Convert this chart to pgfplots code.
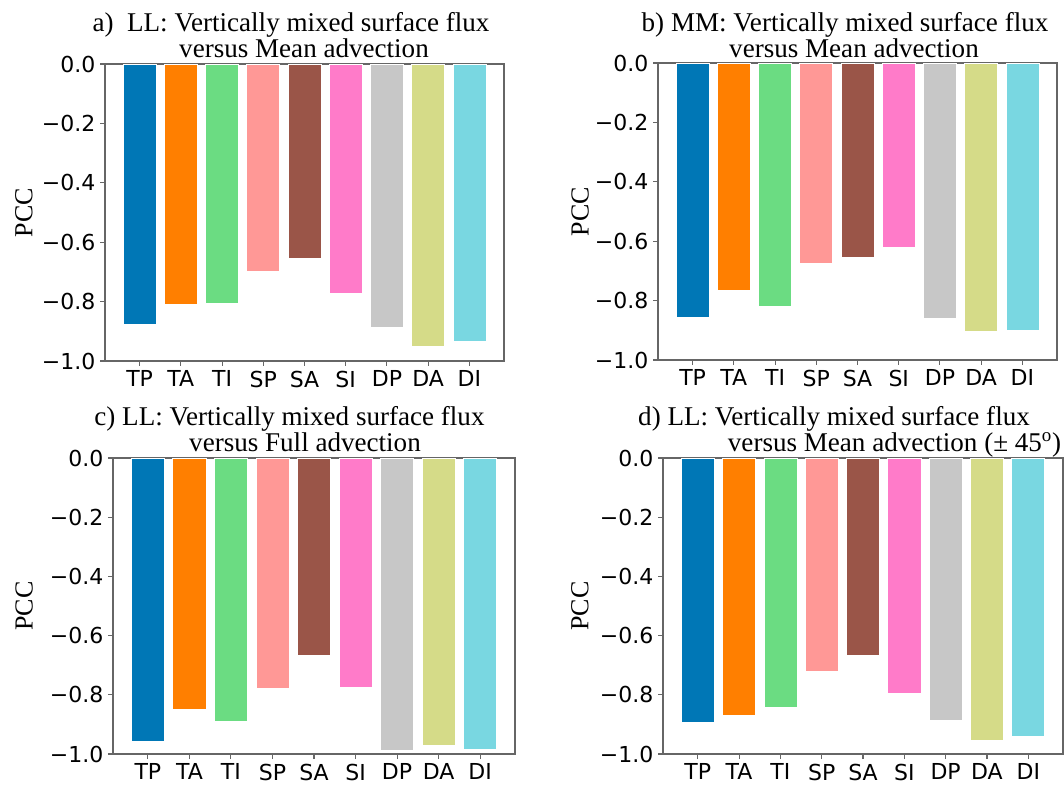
\documentclass[border=0pt]{standalone}
\usepackage{pgfplots}
\pgfplotsset{compat=1.18}
\usepackage{pgfplotstable}
\usepackage{fontspec}
\setmainfont{Liberation Serif}
\newfontfamily\tickfont{DejaVu Sans}

\definecolor{c0}{HTML}{0077B6}
\definecolor{c1}{HTML}{FF7F00}
\definecolor{c2}{HTML}{6BDC82}
\definecolor{c3}{HTML}{FF9896}
\definecolor{c4}{HTML}{9A5548}
\definecolor{c5}{HTML}{FF7BC9}
\definecolor{c6}{HTML}{C7C7C7}
\definecolor{c7}{HTML}{D5DB88}
\definecolor{c8}{HTML}{79D7E1}

\pgfplotstableread{
x a b c d
0 -0.875 -0.855 -0.956 -0.894
1 -0.810 -0.764 -0.848 -0.869
2 -0.807 -0.818 -0.889 -0.841
3 -0.698 -0.673 -0.777 -0.720
4 -0.655 -0.653 -0.668 -0.668
5 -0.773 -0.620 -0.774 -0.796
6 -0.888 -0.859 -0.987 -0.887
7 -0.950 -0.902 -0.972 -0.954
8 -0.935 -0.899 -0.983 -0.939
}\datatable

\newcommand{\bars}[1]{%
  \pgfplotsinvokeforeach{0,...,8}{%
    \addplot[ybar, bar width=0.8, bar shift=0pt, fill=c##1, draw=white, line width=0.5pt,
      restrict expr to domain={\coordindex}{##1:##1}] table[x=x, y=#1]{\datatable};
  }%
}

\pgfplotsset{
  panel/.style={
    scale only axis, anchor=south west,
    xmin=-0.84, xmax=8.84, ymin=-1, ymax=0,
    xtick={0,...,8}, xticklabels={TP,TA,TI,SP,SA,SI,DP,DA,DI},
    ytick={-1,-0.8,-0.6,-0.4,-0.2,0},
    yticklabels={−1.0,−0.8,−0.6,−0.4,−0.2,0.0},
    tick align=outside, tick pos=left,
    major tick length=3.75pt,
    axis line style={black!60, line width=0.8pt},
    every tick/.style={black!60, line width=0.8pt},
    ticklabel style={font=\tickfont\fontsize{16.5}{18}\selectfont, text=black},
    clip=false,
  }
}

\begin{document}
\begin{tikzpicture}
\useasboundingbox (0,0) rectangle (798pt,589.5pt);

\begin{axis}[panel, at={(78.75pt,318.75pt)}, width=299.25pt, height=222.75pt]
\bars{a}
\node[rotate=90, font=\fontsize{19.5}{22}\selectfont] at (rel axis cs:-0.203,0.5) {PCC};
\end{axis}

\begin{axis}[panel, at={(493.5pt,319.5pt)}, width=299.25pt, height=222.75pt]
\bars{b}
\node[rotate=90, font=\fontsize{19.5}{22}\selectfont] at (rel axis cs:-0.195,0.5) {PCC};
\end{axis}

\begin{axis}[panel, at={(84.75pt,24pt)}, width=301.5pt, height=222pt]
\bars{c}
\node[rotate=90, font=\fontsize{19.5}{22}\selectfont] at (rel axis cs:-0.221,0.5) {PCC};
\end{axis}

\begin{axis}[panel, at={(497.25pt,24pt)}, width=300pt, height=222pt]
\bars{d}
\node[rotate=90, font=\fontsize{19.5}{22}\selectfont] at (rel axis cs:-0.2075,0.5) {PCC};
\end{axis}

\tikzset{ttl/.style={anchor=base, inner sep=0pt, font=\fontsize{20.3}{24}\selectfont}}
\node[ttl] at (218.25pt,565.5pt) {a)\ \ LL: Vertically mixed surface flux};
\node[ttl] at (228pt,546pt) {versus Mean advection};
\node[ttl] at (633.75pt,565.5pt) {b) MM: Vertically mixed surface flux};
\node[ttl] at (640.5pt,546pt) {versus Mean advection};
\node[ttl] at (217.1pt,270pt) {c) LL: Vertically mixed surface flux};
\node[ttl] at (228.75pt,250.5pt) {versus Full advection};
\node[ttl] at (625.5pt,270pt) {d) LL: Vertically mixed surface flux};
\node[ttl] at (670.9pt,250.5pt) {versus Mean advection (± 45\textsuperscript{o})};
\end{tikzpicture}
\end{document}
